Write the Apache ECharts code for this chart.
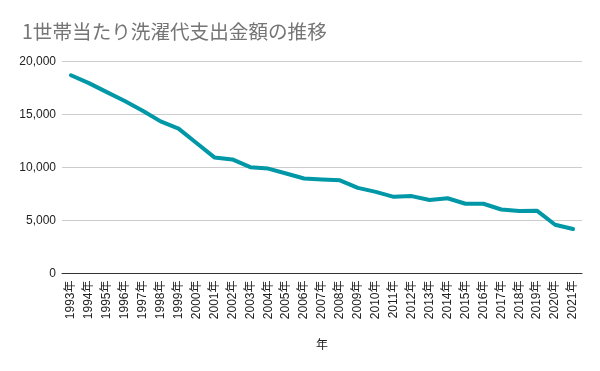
<!DOCTYPE html>
<html><head><meta charset="utf-8">
<script src="https://cdn.jsdelivr.net/npm/echarts@6/dist/echarts.min.js"></script>
<style>html,body{margin:0;padding:0;background:#fff}#c{width:600px;height:371px}</style>
</head><body><div id="c"></div>
<script>
const titleText = '1世帯当たり洗濯代支出金額の推移';
const years = ['1993年','1994年','1995年','1996年','1997年','1998年','1999年','2000年','2001年','2002年','2003年','2004年','2005年','2006年','2007年','2008年','2009年','2010年','2011年','2012年','2013年','2014年','2015年','2016年','2017年','2018年','2019年','2020年','2021年'];
const spending = [18700,17960,17110,16270,15360,14350,13670,12310,10950,10760,10030,9900,9430,8960,8870,8790,8080,7700,7230,7300,6930,7100,6580,6580,6040,5890,5910,4600,4200];
const yTicks = {min:0, max:20000, interval:5000};

const chart = echarts.init(document.getElementById('c'));
chart.setOption({
  animation:false,
  title:{text:titleText,left:17,top:17,textStyle:{fontFamily:'Noto Sans CJK JP',fontSize:19.6,fontWeight:'normal',color:'#757575'}},
  grid:{left:62,right:18,top:61.5,bottom:97.5},
  xAxis:{type:'category',data:years,boundaryGap:true,
    name:'年',nameLocation:'middle',nameGap:65,
    nameTextStyle:{fontFamily:'Noto Sans CJK JP',fontSize:12,color:'#222',fontWeight:'normal'},
    axisLine:{lineStyle:{color:'#333',width:1}},axisTick:{show:false},
    axisLabel:{interval:0,rotate:90,fontFamily:'Liberation Sans, Noto Sans CJK JP',fontSize:12,color:'#222',margin:7}},
  yAxis:{type:'value',min:yTicks.min,max:yTicks.max,interval:yTicks.interval,
    axisLine:{show:false},axisTick:{show:false},
    splitLine:{lineStyle:{color:'#cccccc',width:1}},
    axisLabel:{fontFamily:'Liberation Sans',fontSize:12,color:'#222',margin:6,
      formatter:v=>v.toLocaleString('en-US')}},
  series:[{type:'line',data:spending,symbol:'none',
    lineStyle:{color:'#0097a7',width:4,join:'round',cap:'round'}}]
});
</script></body></html>
